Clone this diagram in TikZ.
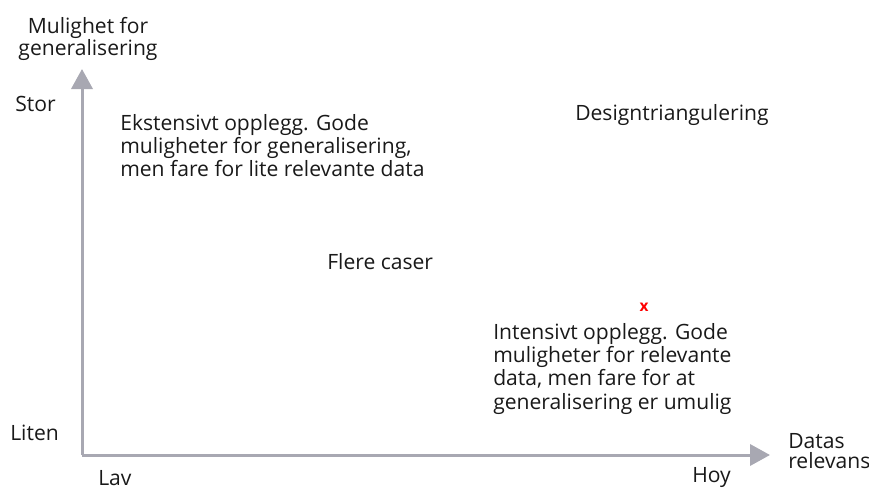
\documentclass[tikz,border=0pt]{standalone}
\usepackage{fontspec}
\setmainfont{Open Sans}
\usepackage{xcolor}
\usetikzlibrary{arrows.meta}
\definecolor{axisgray}{RGB}{168,168,178}
\definecolor{textdark}{RGB}{25,25,25}
\begin{document}
\begin{tikzpicture}[x=0.025cm,y=-0.025cm,every node/.style={inner sep=0pt,text=textdark,font=\fontsize{15}{16.6}\selectfont},
axis/.style={draw=axisgray,line width=3*0.025cm,-{Triangle[length=0.5cm,width=0.53cm]}},
block/.style={align=left,anchor=north west}]
\useasboundingbox (0,0) rectangle (869,491);
% akser
\coordinate (origo) at (82,455);
\coordinate (ytopp) at (82,69);
\coordinate (xende) at (770,455);
\draw[axis] (origo) -- (ytopp);
\draw[axis] (origo) -- (xende);
% aksetekster
\node[align=center,anchor=north,font=\fontsize{15}{14.9}\selectfont] (ytekst) at (88,17) {Mulighet for\\generalisering};
\node[anchor=west] (stor) at (15,103.5) {Stor};
\node[anchor=west] (liten) at (10,433) {Liten};
\node[anchor=west] (lav) at (98,478) {Lav};
\node[anchor=west] (hoy) at (692,478) {Hoy};
\node[block,font=\fontsize{15}{14.6}\selectfont] (xtekst) at (788,433) {Datas\\relevans};
% felt
\node[block] (ekstensivt) at (120,114) {Ekstensivt opplegg. Gode\\muligheter for generalisering,\\men fare for lite relevante data};
\node[anchor=west] (design) at (575,115) {Designtriangulering};
\node[anchor=west] (flere) at (327,262) {Flere caser};
\node[text=red,font=\fontsize{11}{11}\bfseries] (kryss) at (644,307) {x};
\node[block] (intensivt) at (493,323) {Intensivt opplegg. Gode\\muligheter for relevante\\data, men fare for at\\generalisering er umulig};
\end{tikzpicture}
\end{document}
